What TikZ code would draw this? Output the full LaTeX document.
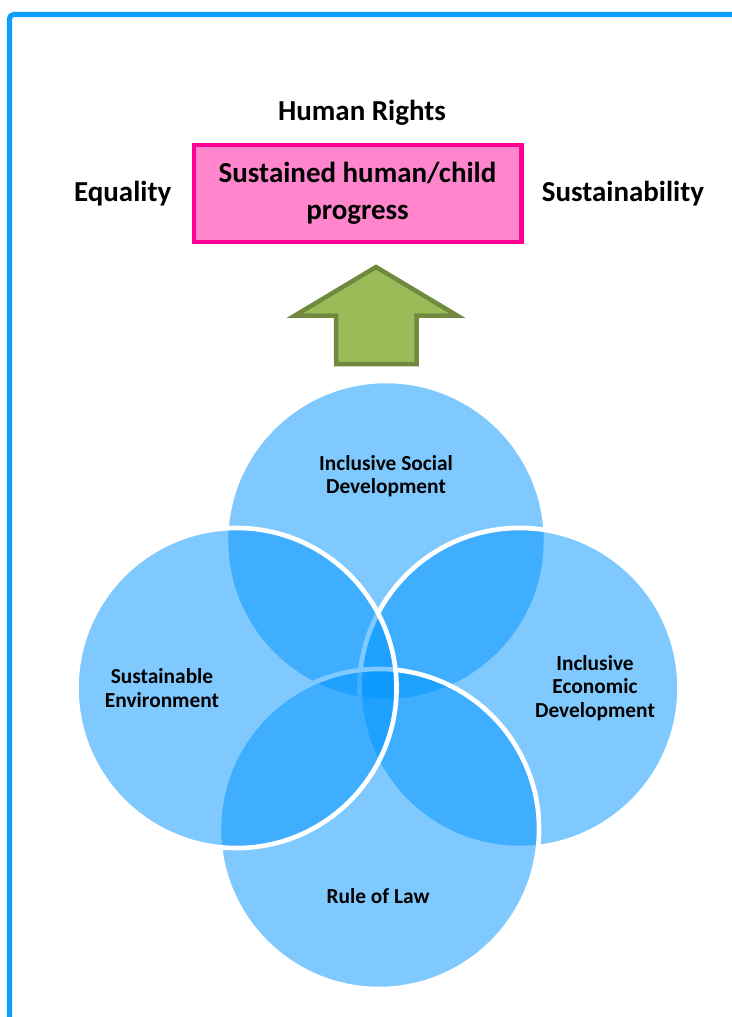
\documentclass[tikz,border=0pt]{standalone}
\usepackage{fontspec}
\setmainfont{Carlito}
\usetikzlibrary{positioning}
\definecolor{framebl}{RGB}{14,156,255}
\definecolor{boxpink}{RGB}{255,133,204}
\definecolor{boxrim}{RGB}{255,0,144}
\definecolor{arrgreen}{RGB}{155,187,89}
\definecolor{arrrim}{RGB}{113,137,63}
\definecolor{vennbl}{RGB}{0,148,255}
\tikzset{
	venn/.style={fill=vennbl, fill opacity=0.5, draw=white, line width=3.3pt},
	biglbl/.style={font=\fontsize{20.6}{26}\selectfont\bfseries, align=center, inner sep=0pt},
	smalllbl/.style={font=\fontsize{15.2}{16.6}\selectfont\bfseries, align=center, inner sep=0pt}
}
\begin{document}
\begin{tikzpicture}[x=0.025cm, y=-0.025cm]
			\useasboundingbox (0,0) rectangle (731,1017);
			\draw[framebl, line width=3.6pt, rounded corners=3pt] (9.5,1030) -- (9.5,14.5) -- (745,14.5);
			\node[biglbl, draw=boxrim, fill=boxpink, line width=3.5pt, minimum width=8.175cm, minimum height=2.425cm] (goal) at (357.5,193.5) {Sustained human/child\\progress};
			\node[biglbl] (rights) at (362,113) {Human Rights};
			\node[biglbl, left=0.5cm of goal] (equal) {Equality};
			\node[biglbl, right=0.45cm of goal] (sustain) {Sustainability};
			\draw[fill=arrgreen, draw=arrrim, line width=3.2pt] (376,267) -- (457,315.5) -- (416.5,315.5) -- (416.5,364) -- (336,364) -- (336,315.5) -- (295,315.5) -- cycle;
			\draw[venn] (386,541) circle (4cm);
			\draw[venn] (519.5,688) circle (4cm);
			\draw[venn] (379,829) circle (4cm);
			\draw[venn] (236.5,688) circle (4cm);
			\node[smalllbl] (social) at (386,476) {Inclusive Social\\Development};
			\node[smalllbl] (environ) at (162,688) {Sustainable\\Environment};
			\node[smalllbl] (econ) at (595,688) {Inclusive\\Economic\\Development};
			\node[smalllbl] (law) at (378,896) {Rule of Law};
		\end{tikzpicture}
\end{document}
